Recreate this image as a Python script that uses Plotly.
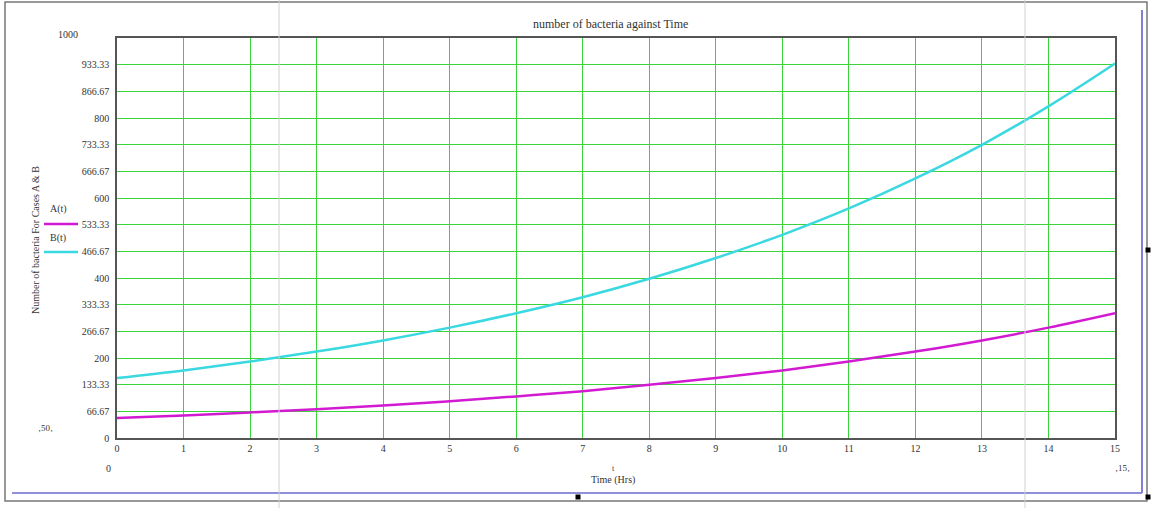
import plotly.graph_objects as go

# Data
hours = [0, 1, 2, 3, 4, 5, 6, 7, 8, 9, 10, 11, 12, 13, 14, 15]
bacteria_A = [50, 56, 64, 72, 81, 92, 104, 117, 133, 150, 169, 191, 216, 244, 276, 312]
bacteria_B = [150, 169, 191, 216, 244, 276, 312, 352, 398, 450, 508, 574, 649, 733, 829, 936]
y_tick_vals = [0, 66.67, 133.33, 200, 266.67, 333.33, 400, 466.67, 533.33, 600,
               666.67, 733.33, 800, 866.67, 933.33]
y_tick_text = ["0", "66.67", "133.33", "200", "266.67", "333.33", "400", "466.67", "533.33",
               "600", "666.67", "733.33", "800", "866.67", "933.33"]
x_tick_vals = list(range(0, 16))

W, H = 1151, 508
L, R, T, B = 117, 1115, 38, 438
PW, PH = R - L, B - T


def px(x):
    return (x - L) / PW


def py(y):
    return (B - y) / PH


FONT = "Liberation Serif"
GREEN = "#3ad43a"
MAGENTA = "#d21ad2"
CYAN = "#3ad8e0"

fig = go.Figure()
fig.add_trace(go.Scatter(x=hours, y=bacteria_A, mode="lines", name="A(t)",
                         line=dict(color=MAGENTA, width=2.5, shape="spline"), showlegend=False))
fig.add_trace(go.Scatter(x=hours, y=bacteria_B, mode="lines", name="B(t)",
                         line=dict(color=CYAN, width=2.5, shape="spline"), showlegend=False))

fig.update_layout(
    width=W, height=H,
    margin=dict(l=L, r=W - R, t=T, b=H - B),
    paper_bgcolor="white", plot_bgcolor="white",
    font=dict(family=FONT, size=10, color="#333333"),
    xaxis=dict(range=[0, 15], tickvals=x_tick_vals, showgrid=True, gridcolor=GREEN, gridwidth=1.3,
               zeroline=False, showline=True, linecolor="#555555", linewidth=1.5, mirror=True,
               ticks="", tickfont=dict(family=FONT, size=10, color="#333333")),
    yaxis=dict(range=[0, 1000], tickvals=y_tick_vals, ticktext=y_tick_text, showgrid=True,
               gridcolor=GREEN, gridwidth=1.3, zeroline=False, showline=True, linecolor="#555555",
               linewidth=1.5, mirror=True, ticks="", ticklabelstandoff=4,
               tickfont=dict(family=FONT, size=10, color="#333333")),
)

shapes = []
# outer gray frame
shapes.append(dict(type="rect", xref="paper", yref="paper", x0=px(5), x1=px(1147), y0=py(501), y1=py(2),
                   line=dict(color="#777777", width=1.5)))
# blue inner frame lines (bottom and right)
shapes.append(dict(type="line", xref="paper", yref="paper", x0=px(12), x1=px(1142), y0=py(493), y1=py(493),
                   line=dict(color="#6a6ad0", width=1.5)))
shapes.append(dict(type="line", xref="paper", yref="paper", x0=px(1142), x1=px(1142), y0=py(493), y1=py(10),
                   line=dict(color="#8080d8", width=2)))
# light gray artifact lines
for xv in (279, 1025):
    shapes.append(dict(type="line", xref="paper", yref="paper", x0=px(xv), x1=px(xv), y0=py(508), y1=py(0),
                       line=dict(color="#d0d0d0", width=1)))
# small black handles
for (hx, hy) in [(578, 497), (1148, 250), (1148, 497)]:
    shapes.append(dict(type="rect", xref="paper", yref="paper", x0=px(hx - 2.5), x1=px(hx + 2.5),
                       y0=py(hy + 2.5), y1=py(hy - 2.5), fillcolor="black", line=dict(width=0)))
# legend lines
shapes.append(dict(type="line", xref="paper", yref="paper", x0=px(44), x1=px(78), y0=py(224), y1=py(224),
                   line=dict(color=MAGENTA, width=2.5)))
shapes.append(dict(type="line", xref="paper", yref="paper", x0=px(44), x1=px(78), y0=py(252), y1=py(252),
                   line=dict(color=CYAN, width=2.5)))
fig.update_layout(shapes=shapes)

ann = []


def add_text(text, x, y, size=10, xanchor="center", angle=0):
    ann.append(dict(text=text, xref="paper", yref="paper", x=px(x), y=py(y), showarrow=False,
                    xanchor=xanchor, yanchor="middle", textangle=angle,
                    font=dict(family=FONT, size=size, color="#333333")))


add_text("number of bacteria against Time", 610, 24, size=12)
add_text("1000", 68, 35)
add_text("0", 108, 468)
add_text("\u201a50\u201a", 45, 428, size=9)
add_text("\u201a15\u201a", 1122, 468, size=9)
add_text("t", 613, 469, size=8)
add_text("Time (Hrs)", 613, 480)
add_text("Number of bacteria For Cases A &amp; B", 35, 240, size=10, angle=-90)
add_text("A(t)", 48, 209, xanchor="left")
add_text("B(t)", 48, 238, xanchor="left")
fig.update_layout(annotations=ann)

fig.write_html("out.html", config={"displayModeBar": False},
               post_script="document.body.style.margin='0';document.body.style.overflow='hidden';")
